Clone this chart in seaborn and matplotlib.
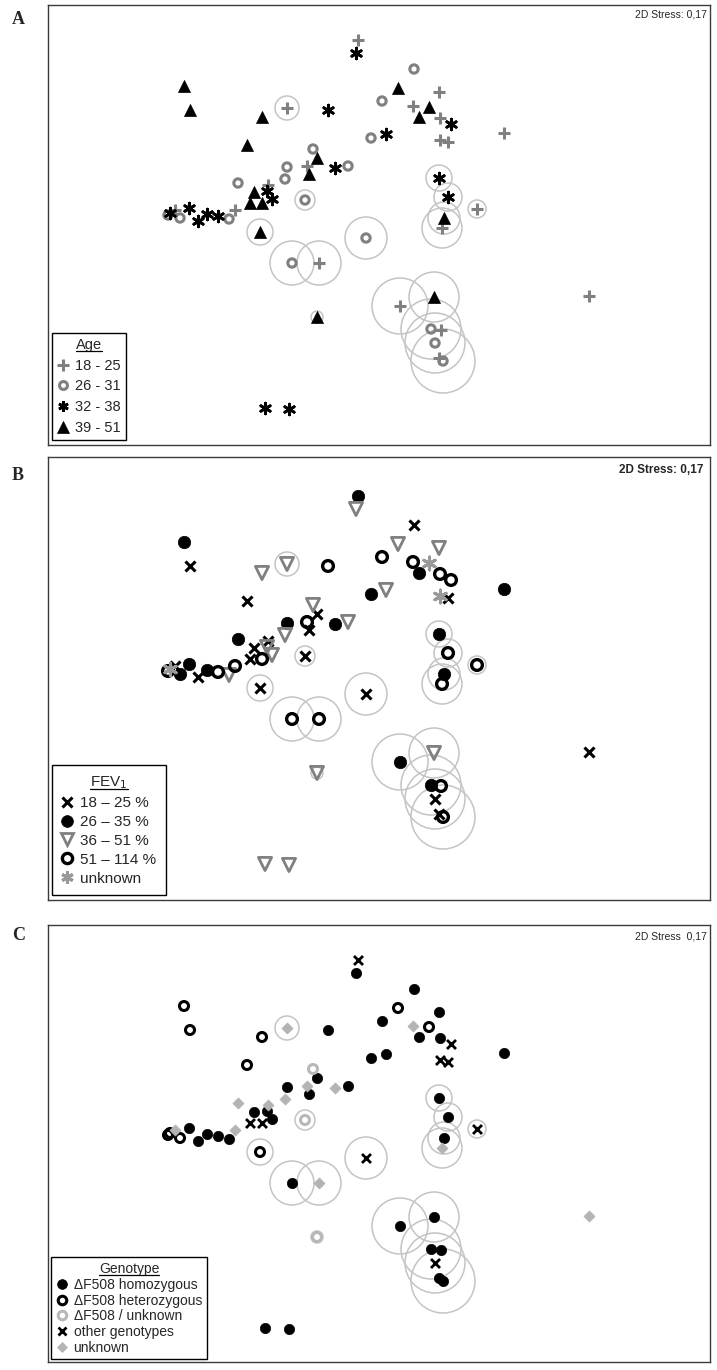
import matplotlib
matplotlib.use("Agg")
import matplotlib.pyplot as plt
from matplotlib.lines import Line2D
import seaborn as sns
import pandas as pd

# NMDS coordinates (pixel-like units, y grows downward)
nmds1 = [358, 356, 414, 398, 439, 382, 413, 429, 419, 440, 451, 371, 386, 440, 448, 504, 348,
         439, 448, 477, 444, 442, 184, 190, 287, 262, 328, 247, 313, 317, 307, 309, 335, 287,
         285, 305, 238, 268, 267, 254, 272, 250, 262, 260, 292, 319, 366, 400, 434, 431, 441,
         435, 439, 443, 589, 317, 265, 289, 170, 175, 189, 180, 168, 198, 207, 218, 229, 235]
nmds2 = [40, 53, 69, 88, 92, 101, 106, 107, 117, 118, 124, 138, 134, 140, 142, 133, 166,
         178, 197, 209, 218, 228, 86, 110, 108, 117, 110, 145, 149, 158, 166, 174, 168, 167,
         179, 200, 183, 185, 191, 192, 199, 203, 203, 232, 263, 263, 238, 306, 297, 329, 330,
         343, 358, 361, 296, 317, 408, 409, 213, 210, 208, 218, 215, 221, 214, 216, 219, 210]
bubble = [0, 0, 0, 0, 0, 0, 0, 0, 0, 0, 0, 0, 0, 0, 0, 0, 0,
          13, 14, 9, 16, 20, 0, 0, 12, 0, 0, 0, 0, 0, 0, 0, 0, 0,
          0, 10, 0, 0, 0, 0, 0, 0, 0, 13, 22, 22, 21, 28, 25, 30, 0,
          30, 0, 32, 0, 6, 0, 0, 0, 0, 0, 0, 0, 0, 0, 0, 0, 0]

# A = 18-25, B = 26-31, C = 32-38, D = 39-51
age = ("A C B D A B A D D A C B C A A A B "
       "C C A D A D D A D C D B D A D C B "
       "B B B A C D C D D D B A B A D B A "
       "B A B A D C C C A C B B C C C B A").split()
# A = 18-25 %, B = 26-35 %, C = 36-51 %, D = 51-114 %, U = unknown
fev = ("B C A C C D D U B D D B C U A B C "
       "B D D B D B A C C D A C A D A B B "
       "C A B A C A C A D A D D A B C B D "
       "A A D A C C C U A B B D A B D C D").split()
# H = homozygous, E = heterozygous, G = dF508/unknown, X = other, U = unknown
genotype = ("X H H E H H U E H H X H H X X H H "
            "H H X H U E E U E H E G H U H U H "
            "U G U U H H H X X E H U X H H H H "
            "X H H U G H H E U H E E H H H H U").split()

age_labels = ["18 - 25", "26 - 31", "32 - 38", "39 - 51"]
fev_labels = ["18 \u2013 25 %", "26 \u2013 35 %", "36 \u2013 51 %", "51 \u2013 114 %", "unknown"]
geno_labels = ["\u0394F508 homozygous", "\u0394F508 heterozygous", "\u0394F508 / unknown",
               "other genotypes", "unknown"]

df = pd.DataFrame({"x": nmds1, "y": nmds2, "r": bubble, "age": age, "fev": fev, "geno": genotype})

sns.set_style("white")
plt.rcParams["font.family"] = ["Liberation Sans", "DejaVu Sans"]

GRAY = "#808080"
AST = (6, 2, 0)

age_style = {
    "A": dict(marker="+", color=GRAY, s=75, linewidth=2.2),
    "B": dict(marker="o", color=GRAY, facecolor="none", edgecolor=GRAY, s=36, linewidth=2.2),
    "C": dict(marker=AST, color="black", s=60, linewidth=2.0),
    "D": dict(marker="^", color="black", edgecolor="black", s=75, linewidth=0.5),
}
fev_style = {
    "A": dict(marker="x", color="black", s=52, linewidth=2.2),
    "B": dict(marker="o", color="black", edgecolor="black", s=80, linewidth=0.5),
    "C": dict(marker="v", color=GRAY, facecolor="none", edgecolor=GRAY, s=90, linewidth=2.0),
    "D": dict(marker="o", color="black", facecolor="none", edgecolor="black", s=60, linewidth=2.4),
    "U": dict(marker=AST, color="#999999", s=85, linewidth=2.2),
}
geno_style = {
    "H": dict(marker="o", color="black", edgecolor="black", s=55, linewidth=0.5),
    "E": dict(marker="o", color="black", facecolor="none", edgecolor="black", s=42, linewidth=2.2),
    "G": dict(marker="o", color="#b8b8b8", facecolor="none", edgecolor="#b8b8b8", s=42, linewidth=2.2),
    "X": dict(marker="x", color="black", s=42, linewidth=2.0),
    "U": dict(marker="D", color="#b4b4b4", edgecolor="#b4b4b4", s=32, linewidth=0.5),
}

fig = plt.figure(figsize=(7.17, 13.7), dpi=100)
W, H = 717, 1370


def make_ax(x0, y0, x1, y1):
    return fig.add_axes([x0 / W, 1 - y1 / H, (x1 - x0) / W, (y1 - y0) / H])


def draw_panel(ax, col, styles, order, labels, ylim, xlim):
    ax.set_xlim(*xlim)
    ax.set_ylim(*ylim)
    pts_per_px = 72 / fig.dpi
    sub = df[df["r"] > 0]
    ax.scatter(sub["x"], sub["y"], s=(2 * sub["r"] * pts_per_px) ** 2, facecolor="none",
               edgecolor="#c4c4c4", linewidth=1.1, zorder=1)
    for key in order:
        part = df[df[col] == key]
        if len(part):
            sns.scatterplot(data=part, x="x", y="y", ax=ax, zorder=3, legend=False, **styles[key])
    ax.set_xticks([])
    ax.set_yticks([])
    ax.set_xlabel("")
    ax.set_ylabel("")
    for sp in ax.spines.values():
        sp.set_color("#3a3a3a")
        sp.set_linewidth(1.0)
    handles = []
    for key, lab in zip(order, labels):
        st = styles[key]
        fc = st.get("facecolor", st["color"])
        handles.append(Line2D([], [], linestyle="none", marker=st["marker"],
                              markersize=st["s"] ** 0.5 * 0.95, markeredgewidth=st["linewidth"],
                              color=st["color"], markerfacecolor=fc,
                              markeredgecolor=st.get("edgecolor", st["color"]), label=lab))
    return handles


def add_legend(ax, handles, title, fs, tfs, spacing, anchor, pad=0.35):
    leg = ax.legend(handles=handles, title=title, loc="lower left", bbox_to_anchor=anchor,
                    frameon=True, fancybox=False, edgecolor="black", framealpha=1,
                    fontsize=fs, title_fontsize=tfs, handlelength=0.8, handletextpad=0.45,
                    labelspacing=spacing, borderpad=pad, borderaxespad=0.0)
    leg.get_frame().set_linewidth(1.0)
    return leg


# Panel A
axA = make_ax(48, 5, 710, 445)
hA = draw_panel(axA, "age", age_style, ["A", "B", "C", "D"], age_labels, (445, 5), (48, 710))
legA = add_legend(axA, hA, "Age", 10.5, 10.5, 0.45, (0.006, 0.012))
axA.text(0.995, 0.99, "2D Stress: 0,17", transform=axA.transAxes, ha="right", va="top", fontsize=7.5)

# Panel B
axB = make_ax(48, 457, 710, 900)
hB = draw_panel(axB, "fev", fev_style, ["A", "B", "C", "D", "U"], fev_labels, (444, 1), (48, 710))
legB = add_legend(axB, hB, "FEV$_1$", 11, 11, 0.32, (0.006, 0.012), pad=0.6)
axB.text(0.99, 0.985, "2D Stress: 0,17", transform=axB.transAxes, ha="right", va="top",
         fontsize=8.5, fontweight="bold")

# Panel C
axC = make_ax(48, 925, 710, 1362)
hC = draw_panel(axC, "geno", geno_style, ["H", "E", "G", "X", "U"], geno_labels, (442, 5), (48, 710))
legC = add_legend(axC, hC, "Genotype", 10, 10, 0.12, (0.005, 0.006))
axC.text(0.995, 0.985, "2D Stress  0,17", transform=axC.transAxes, ha="right", va="top", fontsize=7.5)

for lab, yy in zip("ABC", [20, 475, 935]):
    fig.text(12 / W, 1 - yy / H, lab, fontsize=13, fontweight="bold",
             family=["Liberation Serif", "DejaVu Serif"], ha="left", va="center")

# underline the legend titles
fig.canvas.draw()
for leg in (legA, legB, legC):
    bb = leg.get_title().get_window_extent().transformed(fig.transFigure.inverted())
    fig.add_artist(Line2D([bb.x0, bb.x1], [bb.y0 + 0.0012, bb.y0 + 0.0012], color="black",
                          linewidth=0.9, transform=fig.transFigure))

fig.savefig("out.png", dpi=100)
